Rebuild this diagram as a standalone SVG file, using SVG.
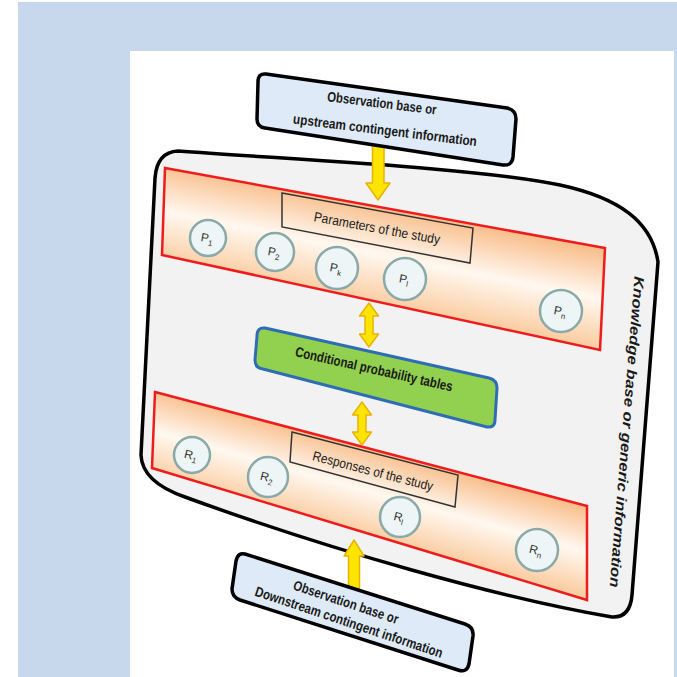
<svg xmlns="http://www.w3.org/2000/svg" width="677" height="677" viewBox="0 0 677 677">
<style>
.lbl{font-family:"Liberation Sans",Arial,sans-serif;fill:#1a1a1a;text-anchor:middle}
.b{font-weight:bold}
.circ{fill:#eef5f6;stroke:#8aa9a8;stroke-width:2.5}
.ct{font-family:"Liberation Sans",Arial,sans-serif;fill:#333;font-size:12px;text-anchor:middle}
.band{stroke:#ee1c1c;stroke-width:2.5}
.tag{fill:none;stroke:#333;stroke-width:1.5}
.obs{fill:#deeaf8;stroke:#000;stroke-width:3.5;stroke-linejoin:round}
.arr{fill:#ffe400;stroke:#e8b400;stroke-width:1.5;stroke-linejoin:round}
</style>
<defs>
<linearGradient id="g1" gradientUnits="userSpaceOnUse" x1="392" y1="210" x2="374" y2="300">
<stop offset="0" stop-color="#f9c08f"/><stop offset="0.5" stop-color="#fff8f0"/><stop offset="1" stop-color="#fbcfa6"/>
</linearGradient>
<linearGradient id="g2" gradientUnits="userSpaceOnUse" x1="381" y1="452" x2="359" y2="531">
<stop offset="0" stop-color="#f9c08f"/><stop offset="0.5" stop-color="#fff8f0"/><stop offset="1" stop-color="#fbcfa6"/>
</linearGradient>
</defs>
<rect x="0" y="0" width="677" height="677" fill="#fff"/>
<rect x="18" y="2" width="659" height="675" fill="#c8d8ec"/>
<rect x="130" y="51" width="544" height="626" fill="#fff"/>

<g id="knowledge-base">
<path d="M178,151 C300,160 480,168 560,185 C620,198 652,222 658,262 L632,595 Q630,618 612,617 C500,598 330,550 185,497 Q142,482 141,455 L155,178 Q157,152 178,151 Z" fill="#f2f2f2" stroke="#000" stroke-width="3.5"/>
<text class="lbl b" font-style="italic" font-size="14" textLength="312" lengthAdjust="spacingAndGlyphs" transform="translate(627,432) rotate(94.6)" dy=".35em">Knowledge base or generic information</text>
</g>

<g id="parameters">
<polygon class="band" points="165,168 605,248 600,350 162,255" fill="url(#g1)"/>
<polygon class="tag" points="282,193 473,228 470,263 282,227"/>
<text class="lbl" font-size="13.5" textLength="128" lengthAdjust="spacingAndGlyphs" transform="translate(377,228) rotate(10.4)" dy=".35em">Parameters of the study</text>
</g>
<g id="p1"><circle class="circ" cx="208" cy="238" r="18"/><text class="ct" transform="translate(207,238) rotate(10)" dy=".35em">P<tspan font-size="8" dy="3">1</tspan></text></g>
<g id="p2"><circle class="circ" cx="275" cy="252" r="19"/><text class="ct" transform="translate(274,252) rotate(10)" dy=".35em">P<tspan font-size="8" dy="3">2</tspan></text></g>
<g id="pk"><circle class="circ" cx="337" cy="268" r="21"/><text class="ct" transform="translate(336,268) rotate(10)" dy=".35em">P<tspan font-size="8" dy="3">k</tspan></text></g>
<g id="pl"><circle class="circ" cx="405" cy="279" r="21"/><text class="ct" transform="translate(404,279) rotate(10)" dy=".35em">P<tspan font-size="8" dy="3">l</tspan></text></g>
<g id="pn"><circle class="circ" cx="561" cy="311" r="21"/><text class="ct" transform="translate(560,311) rotate(10)" dy=".35em">P<tspan font-size="8" dy="3">n</tspan></text></g>

<g id="cpt">
<path d="M265,328 L489,378 Q497,380 497,388 L495,420 Q495,428 487,427 L263,369 Q255,368 255,360 L257,336 Q257,327 265,328 Z" fill="#92d050" stroke="#2e6db4" stroke-width="3"/>
<text class="lbl b" font-size="14" textLength="161" lengthAdjust="spacingAndGlyphs" transform="translate(374,369) rotate(12.7)" dy=".35em">Conditional probability tables</text>
</g>

<g id="responses">
<polygon class="band" points="155,392 587,506 587,600 152,468" fill="url(#g2)"/>
<polygon class="tag" points="292,432 458,475 455,507 290,462"/>
<text class="lbl" font-size="13.5" textLength="124" lengthAdjust="spacingAndGlyphs" transform="translate(373,471) rotate(14.5)" dy=".35em">Responses of the study</text>
</g>
<g id="r1"><circle class="circ" cx="192" cy="455" r="18"/><text class="ct" transform="translate(191,455) rotate(14)" dy=".35em">R<tspan font-size="8" dy="3">1</tspan></text></g>
<g id="r2"><circle class="circ" cx="268" cy="477" r="20"/><text class="ct" transform="translate(267,477) rotate(14)" dy=".35em">R<tspan font-size="8" dy="3">2</tspan></text></g>
<g id="rl"><circle class="circ" cx="400" cy="517" r="20"/><text class="ct" transform="translate(399,517) rotate(14)" dy=".35em">R<tspan font-size="8" dy="3">l</tspan></text></g>
<g id="rn"><circle class="circ" cx="537" cy="550" r="21"/><text class="ct" transform="translate(536,550) rotate(14)" dy=".35em">R<tspan font-size="8" dy="3">n</tspan></text></g>

<g id="connectors">
<polygon class="arr" points="372.5,140 384,140 384,183 390,183 378,200 366,183 372.5,183"/>
<polygon class="arr" points="369,303 378.5,316 373,316 373,334 378.5,334 369,347 359.5,334 365,334 365,316 359.5,316"/>
<polygon class="arr" points="362,402 371.5,415 366,415 366,432 371.5,432 362,445 352.5,432 358,432 358,415 352.5,415"/>
<polygon class="arr" points="354,540 364,556 359.5,556 359.5,595 348.5,595 348.5,556 344,556"/>
</g>

<g id="upstream">
<path class="obs" d="M266,74 L507,108 Q516,110 516,119 L513,157 Q512,166 503,165 L265,128 Q257,127 257,119 L258,82 Q258,73 266,74 Z"/>
<text class="lbl b" font-size="14" textLength="110" lengthAdjust="spacingAndGlyphs" transform="translate(382,103) rotate(7)" dy=".35em">Observation base or</text>
<text class="lbl b" font-size="14" textLength="185" lengthAdjust="spacingAndGlyphs" transform="translate(385,130) rotate(7)" dy=".35em">upstream contingent information</text>
</g>

<g id="downstream">
<path class="obs" d="M245,554 L465,624 Q474,627 473,636 L469,664 Q467,673 458,670 L240,600 Q232,597 232,589 L236,561 Q238,552 245,554 Z"/>
<text class="lbl b" font-size="14" textLength="110" lengthAdjust="spacingAndGlyphs" transform="translate(346,602) rotate(18.5)" dy=".35em">Observation base or</text>
<text class="lbl b" font-size="14" textLength="197" lengthAdjust="spacingAndGlyphs" transform="translate(349,622) rotate(18.5)" dy=".35em">Downstream contingent information</text>
</g>
</svg>
